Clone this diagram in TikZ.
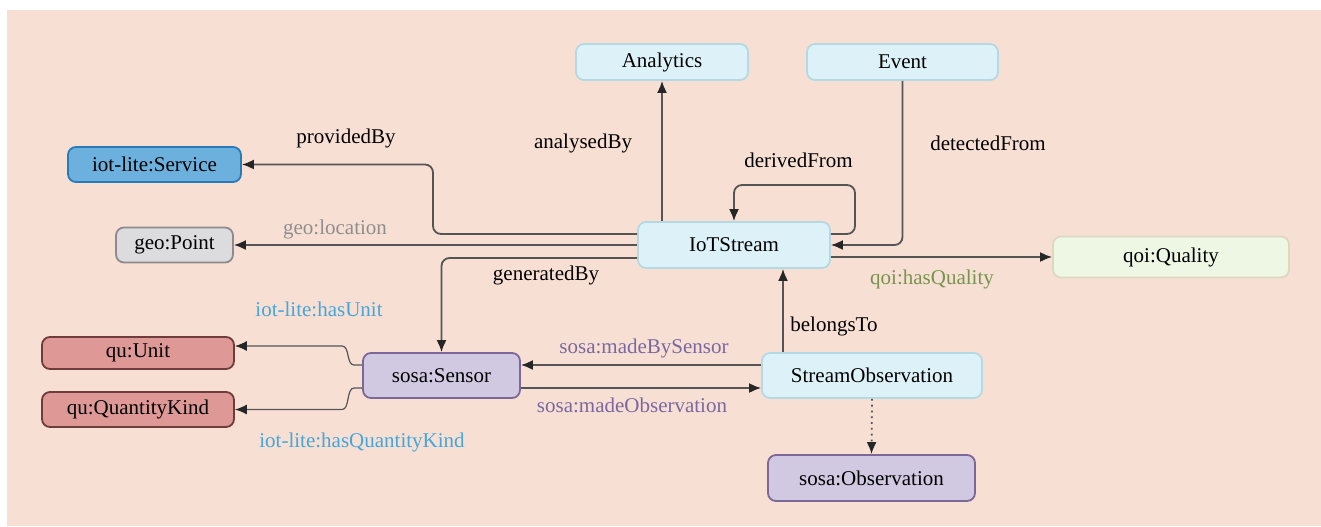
\documentclass[tikz,border=0pt]{standalone}
\usepackage{fontspec}
\setmainfont{Liberation Serif}
\usepackage{tikz}
\usetikzlibrary{arrows.meta}
\definecolor{bgPeach}{HTML}{F8DFD4}
\definecolor{streamFill}{HTML}{DDF2F8}
\definecolor{streamLine}{HTML}{B5D9E3}
\definecolor{serviceFill}{HTML}{6CB0DE}
\definecolor{serviceLine}{HTML}{2A79B8}
\definecolor{pointFill}{HTML}{DCDCDE}
\definecolor{pointLine}{HTML}{8C8C8C}
\definecolor{qualityFill}{HTML}{EEF6E4}
\definecolor{qualityLine}{HTML}{DDD8C0}
\definecolor{sosaFill}{HTML}{D1C8E1}
\definecolor{sosaLine}{HTML}{7B6898}
\definecolor{quFill}{HTML}{DE9896}
\definecolor{quLine}{HTML}{6E3C3A}
\definecolor{edgeGray}{HTML}{555555}
\definecolor{geoText}{HTML}{8E8E8E}
\definecolor{qoiText}{HTML}{76944E}
\definecolor{iotText}{HTML}{43A7D9}
\definecolor{sosaText}{HTML}{7B68A0}

\begin{document}
\fontsize{10.5}{12.6}\selectfont
\begin{tikzpicture}[x=0.5pt,y=-0.5pt,
  box/.style={draw,rounded corners=4pt,line width=0.9pt,align=center,inner sep=0pt},
  cls/.style={box,fill=streamFill,draw=streamLine},
  sosa/.style={box,fill=sosaFill,draw=sosaLine},
  qu/.style={box,fill=quFill,draw=quLine},
  arrow/.style={-{Latex[length=6pt,width=5pt,color=black!85]},line width=0.9pt,draw=edgeGray,rounded corners=4pt},
  thin arrow/.style={arrow,line width=0.6pt,sharp corners},
  lbl/.style={inner sep=1pt}]
\useasboundingbox (0,0) rectangle (1321,526);
\fill[bgPeach] (7,10) rectangle (1321,526);
\node[cls,minimum width=86pt,minimum height=18pt] (analytics) at (662,62) {Analytics};
\node[cls,minimum width=95.5pt,minimum height=18pt] (event) at (902.5,62) {Event};
\node[box,fill=serviceFill,draw=serviceLine,minimum width=86.5pt,minimum height=17.5pt] (service) at (154.5,164.5) {iot-lite:Service};
\node[box,fill=pointFill,draw=pointLine,minimum width=58.5pt,minimum height=17.5pt] (point) at (174.5,245) {geo:Point};
\node[cls,minimum width=96pt,minimum height=23pt] (stream) at (734,245) {IoTStream};
\node[box,fill=qualityFill,draw=qualityLine,minimum width=118pt,minimum height=20.5pt] (quality) at (1171,257) {qoi:Quality};
\node[sosa,minimum width=78.5pt,minimum height=22.5pt] (sensor) at (441.5,375.5) {sosa:Sensor};
\node[cls,minimum width=110pt,minimum height=22.5pt] (streamobs) at (872,375.5) {StreamObservation};
\node[sosa,minimum width=103.5pt,minimum height=23pt] (observation) at (871.5,478) {sosa:Observation};
\node[qu,minimum width=96pt,minimum height=16pt] (unit) at (138,353) {qu:Unit};
\node[qu,minimum width=96pt,minimum height=17.5pt] (qkind) at (138,409.5) {qu:QuantityKind};
% edge labels
\node[lbl] (providedby) at (346,138) {providedBy};
\node[lbl,text=geoText] (location) at (335,229) {geo:location};
\node[lbl] (analysedby) at (583,143) {analysedBy};
\node[lbl] (derivedfrom) at (798.5,160) {derivedFrom};
\node[lbl] (detectedfrom) at (988,143) {detectedFrom};
\node[lbl] (generatedby) at (546,275) {generatedBy};
\node[lbl,text=qoiText] (hasquality) at (932,279) {qoi:hasQuality};
\node[lbl,text=iotText] (hasunit) at (319,309) {iot-lite:hasUnit};
\node[lbl,text=iotText] (hasqkind) at (362,442) {iot-lite:hasQuantityKind};
\node[lbl] (belongsto) at (834,326) {belongsTo};
\node[lbl,text=sosaText] (madeby) at (644,348) {sosa:madeBySensor};
\node[lbl,text=sosaText] (madeobs) at (632,405) {sosa:madeObservation};
% connector ends
\coordinate (bt) at ([xshift=-44.5pt]streamobs.north);
\coordinate (mbs) at ([yshift=5.25pt]streamobs.west);
\coordinate (mob) at ([yshift=-6.25pt]sensor.east);
% connectors
\draw[arrow] ([yshift=5.5pt]stream.west) -| (433,164.5) -- (service.east);
\draw[arrow] (stream.west) -- (point.east);
\draw[arrow] ([yshift=-6.5pt]stream.west) -| (sensor.north);
\draw[arrow] (analytics.south |- stream.north) -- (analytics.south);
\draw[arrow] ([yshift=5.5pt]stream.east) -| (855,185) -| (stream.north);
\draw[arrow] (event.south) |- (stream.east);
\draw[arrow] ([yshift=-6pt]stream.east) -- (quality.west);
\draw[arrow] (bt) -- (bt |- stream.south);
\draw[arrow] (mbs) -- (mbs -| sensor.east);
\draw[arrow] (mob) -- (mob -| streamobs.west);
\draw[arrow,dotted] (streamobs.south) -- (observation.north);
\draw[thin arrow] ([yshift=5.25pt]sensor.west) -- ++(-8,0) .. controls +(-8,0) and +(8,0) .. (342,346) -- ([yshift=3.5pt]unit.east);
\draw[thin arrow] ([yshift=-6.25pt]sensor.west) -- ++(-8,0) .. controls +(-8,0) and +(8,0) .. (342,409.5) -- (qkind.east);
\end{tikzpicture}
\end{document}
